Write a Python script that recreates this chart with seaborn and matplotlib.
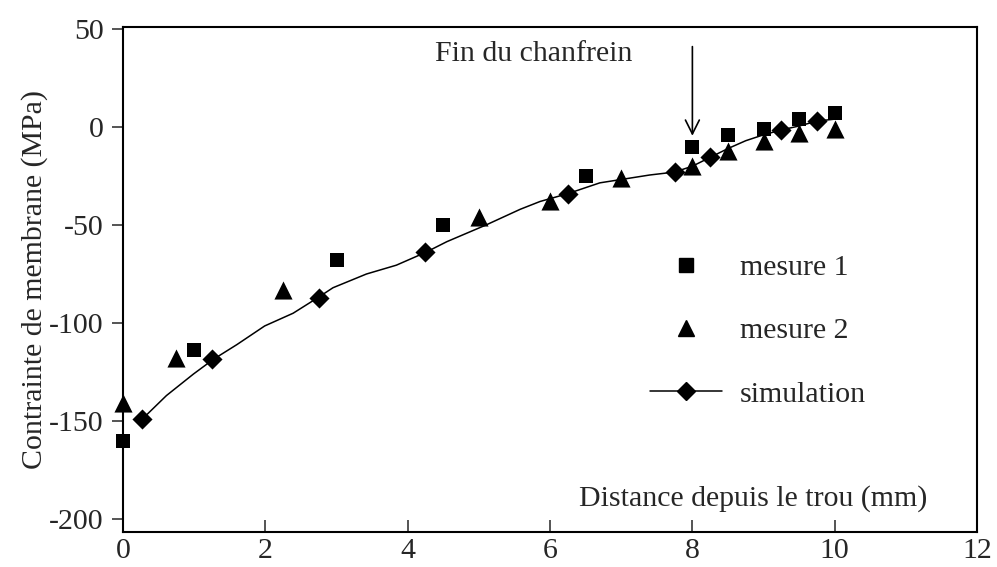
import numpy as np
import matplotlib
matplotlib.use("Agg")
import matplotlib.pyplot as plt
from matplotlib.lines import Line2D
import seaborn as sns

# valeurs
m1_x = [0, 1, 3, 4.5, 6.5, 8, 8.5, 9, 9.5, 10]
m1_y = [-160, -114, -68, -50, -25, -10, -4, -1, 4, 7]

m2_x = [0, 0.75, 2.25, 5, 6, 7, 8, 8.5, 9, 9.5, 10]
m2_y = [-141, -118, -83, -46, -38, -26, -20, -12, -7, -3, -1]

sim_x = [0.27, 0.61, 0.99, 1.27, 1.6, 1.99, 2.39, 2.74, 2.95, 3.42, 3.84, 4.25,
         4.55, 5.1, 5.58, 5.86, 6.25, 6.7, 7.4, 7.75, 8.0, 8.25, 8.5, 8.75,
         9.0, 9.25, 9.5, 9.75, 10.0]
sim_y = [-149, -137, -126, -118.5, -111, -101.5, -95, -87, -82, -75, -70.5, -64,
         -58.5, -50, -42, -38, -34, -28.5, -24.5, -23, -20, -15.5, -11, -7,
         -4, -1.5, 0.5, 3, 4]

diam_x = [0.27, 1.25, 2.75, 4.25, 6.25, 7.75, 8.25, 9.25, 9.75]
diam_y = [-149, -118.5, -87, -64, -34, -23, -15.5, -1.5, 3]

labels = ["mesure 1", "mesure 2", "simulation"]
xticks = [0, 2, 4, 6, 8, 10, 12]
yticks = [-200, -150, -100, -50, 0, 50]

sns.set_style("ticks")
plt.rcParams['font.family'] = ['Liberation Serif', 'DejaVu Serif']
plt.rcParams['axes.unicode_minus'] = False
fs = 21.5

fig = plt.figure(figsize=(9.97, 5.67), dpi=100)
ax = fig.add_axes([0.1234, 0.0617, 0.98 - 0.1234, 0.9524 - 0.0617])

sns.lineplot(x=sim_x, y=sim_y, color='black', linewidth=1.1, sort=False, ax=ax)
sns.scatterplot(x=diam_x, y=diam_y, marker='D', s=105, color='black',
                linewidth=0, ax=ax, zorder=3)
sns.scatterplot(x=m1_x, y=m1_y, marker='s', s=100, color='black',
                linewidth=0, ax=ax, zorder=3, clip_on=False)
sns.scatterplot(x=m2_x, y=m2_y, marker='^', s=170, color='black',
                linewidth=0, ax=ax, zorder=3, clip_on=False)

ax.set_xlim(0, 12)
ax.set_ylim(-206.6, 51)
ax.set_xticks(xticks)
ax.set_yticks(yticks)
ax.tick_params(axis='x', direction='in', length=8.6, width=1.1, labelsize=fs, pad=4)
ax.tick_params(axis='y', direction='out', length=8, width=1.1, labelsize=fs, pad=6)
for sp in ax.spines.values():
    sp.set_linewidth(1.5)
    sp.set_color('black')

ax.set_xlabel("")
ax.set_ylabel("Contrainte de membrane (MPa)", fontsize=fs)
ax.yaxis.set_label_coords(-0.088, 0.5)
ax.text(11.3, -193, "Distance depuis le trou (mm)", fontsize=fs,
        ha='right', va='baseline')

ax.text(7.15, 33.5, "Fin du chanfrein", fontsize=fs, ha='right', va='baseline')
ax.annotate('', xy=(8, -4.5), xytext=(8, 41),
            arrowprops=dict(arrowstyle='->', color='black', lw=1.2,
                            mutation_scale=25, shrinkA=0, shrinkB=0))

handles = [
    Line2D([], [], marker='s', ls='none', color='black', markersize=10),
    Line2D([], [], marker='^', ls='none', color='black', markersize=12),
    Line2D([], [], marker='D', ls='-', lw=1.1, color='black', markersize=9),
]
ax.legend(handles, labels, loc='upper left', bbox_to_anchor=(0.617, 0.550),
          frameon=False, fontsize=fs, borderpad=0, borderaxespad=0,
          handlelength=2.4, handletextpad=0.6, labelspacing=1.22)

fig.savefig("out.png", dpi=100)
